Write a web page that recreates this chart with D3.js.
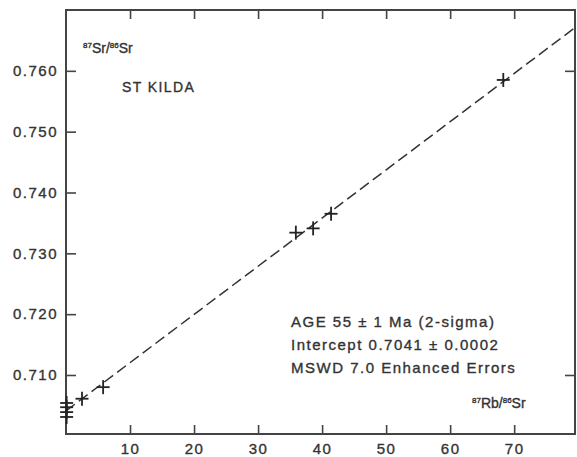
<!DOCTYPE html>
<html>
<head>
<meta charset="utf-8">
<script src="https://cdn.jsdelivr.net/npm/d3@7"></script>
<style>
  body { margin: 0; background: #fff; }
  text { font-family: "Liberation Sans", Arial, sans-serif; fill: #333; stroke: #333; stroke-width: 0.35px; }
</style>
</head>
<body>
<div id="app"></div>
<script>
const WIDTH = 577;
const HEIGHT = 457;

// 87Rb/86Sr vs 87Sr/86Sr, St Kilda isochron
const rbSr = [0.1, 0.1, 0.1, 0.1, 2.5, 5.8, 35.9, 38.6, 41.4, 68.3];
const srSr = [0.7054, 0.7047, 0.7039, 0.7031, 0.7061, 0.7080, 0.7334, 0.7341, 0.7365, 0.7585];

// isochron end points
const lineX = [0, 79.5];
const lineY = [0.7041, 0.7671];

const xTicks = [10, 20, 30, 40, 50, 60, 70];
const yTicks = [0.710, 0.720, 0.730, 0.740, 0.750, 0.760];
const rightTicks = [0.710, 0.760];

const notes = [
  'AGE 55 \u00b1 1 Ma (2-sigma)',
  'Intercept 0.7041 \u00b1 0.0002',
  'MSWD 7.0 Enhanced Errors'
];

const margin = { top: 10, right: 2, bottom: 23, left: 66 };

const svg = d3.select('#app')
  .append('svg')
    .attr('width', WIDTH)
    .attr('height', HEIGHT);

const x = d3.scaleLinear()
  .domain([0, 79.5])
  .range([margin.left, WIDTH - margin.right]);

const y = d3.scaleLinear()
  .domain([0.7003, 0.7700])
  .range([HEIGHT - margin.bottom, margin.top]);

const axisColor = '#444';

function styleAxis(g) {
  g.select('.domain').remove();
  g.selectAll('.tick line').attr('stroke', axisColor).attr('stroke-width', 1.6);
  g.selectAll('.tick text')
    .attr('font-size', 15)
    .attr('letter-spacing', 1.5)
    .attr('fill', '#333');
}

svg.append('g')
  .attr('transform', `translate(0,${y.range()[0]})`)
  .call(d3.axisBottom(x).tickValues(xTicks).tickSize(-9).tickPadding(9).tickFormat(d3.format('d')))
  .call(styleAxis);

svg.append('g')
  .attr('transform', `translate(0,${y.range()[1]})`)
  .call(d3.axisTop(x).tickValues(xTicks).tickSize(-9).tickFormat(''))
  .call(styleAxis);

svg.append('g')
  .attr('transform', `translate(${x.range()[0]},0)`)
  .call(d3.axisLeft(y).tickValues(yTicks).tickSize(-10).tickPadding(8).tickFormat(d3.format('.3f')))
  .call(styleAxis);

svg.append('g')
  .attr('transform', `translate(${x.range()[1]},0)`)
  .call(d3.axisRight(y).tickValues(rightTicks).tickSize(-10).tickFormat(''))
  .call(styleAxis);

// frame
svg.append('rect')
  .attr('x', x.range()[0])
  .attr('y', y.range()[1])
  .attr('width', x.range()[1] - x.range()[0])
  .attr('height', y.range()[0] - y.range()[1])
  .attr('fill', 'none')
  .attr('stroke', axisColor)
  .attr('stroke-width', 2);

// dashed isochron
svg.append('path')
  .datum(lineX.map((d, i) => [d, lineY[i]]))
  .attr('d', d3.line().x(d => x(d[0])).y(d => y(d[1])))
  .attr('fill', 'none')
  .attr('stroke', '#333')
  .attr('stroke-width', 1.5)
  .attr('stroke-dasharray', '11,5');

// crosses
const pts = svg.selectAll('.pt')
  .data(rbSr.map((d, i) => ({ x: d, y: srSr[i] })))
  .enter()
    .append('g')
    .attr('class', 'pt')
    .attr('transform', d => `translate(${x(d.x)},${y(d.y)})`);

pts.append('line')
  .attr('x1', -6.5).attr('x2', 6.5)
  .attr('stroke', '#222').attr('stroke-width', 1.8);
pts.append('line')
  .attr('y1', -7).attr('y2', 7)
  .attr('stroke', '#222').attr('stroke-width', 1.8);

// axis titles with superscripts
function isotopeLabel(px, py, a, b, c, d) {
  const t = svg.append('text')
    .attr('x', px)
    .attr('y', py)
    .attr('font-size', 14);
  t.append('tspan').attr('font-size', 8).attr('dy', -5).text(a);
  t.append('tspan').attr('dy', 5).text(b);
  t.append('tspan').attr('font-size', 8).attr('dy', -5).text(c);
  t.append('tspan').attr('dy', 5).text(d);
}

isotopeLabel(83, 53, '87', 'Sr/', '86', 'Sr');
isotopeLabel(472, 408, '87', 'Rb/', '86', 'Sr');

svg.append('text')
  .attr('x', 122)
  .attr('y', 92)
  .attr('font-size', 14)
  .attr('letter-spacing', 1.4)
  .text('ST KILDA');

svg.selectAll('.note')
  .data(notes)
  .enter()
    .append('text')
    .attr('class', 'note')
    .attr('x', 291)
    .attr('y', (d, i) => 327 + i * 23)
    .attr('font-size', 15)
    .attr('letter-spacing', 1.5)
    .text(d => d);
</script>
</body>
</html>
